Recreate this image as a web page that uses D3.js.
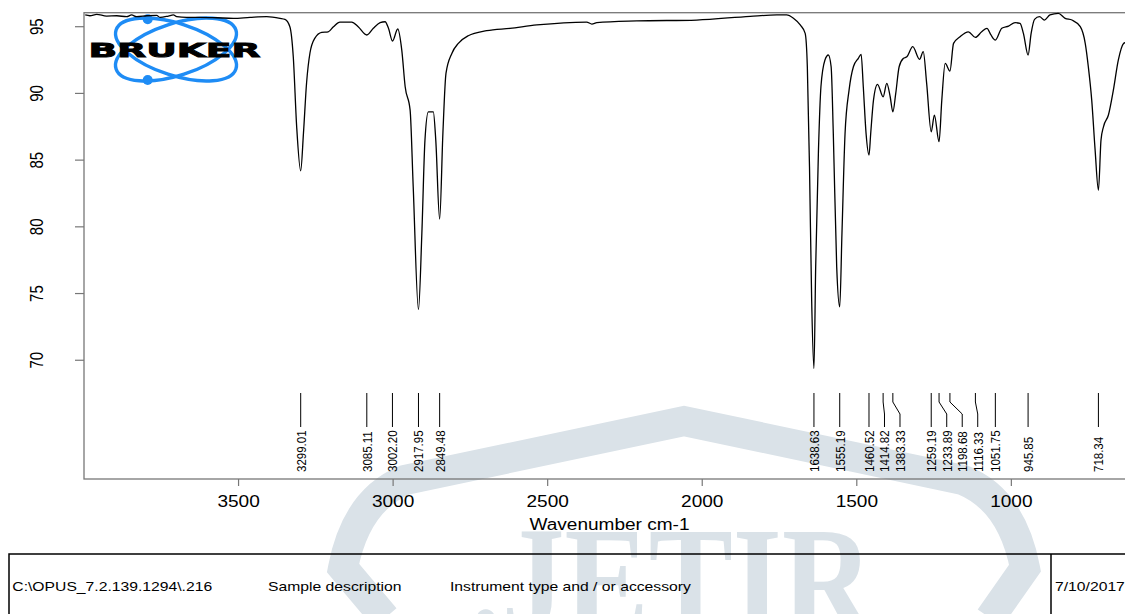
<!DOCTYPE html>
<html>
<head>
<meta charset="utf-8">
<script src="https://cdn.jsdelivr.net/npm/d3@7"></script>
<style>
  body { margin: 0; background: #fff; }
  svg { display: block; font-family: "Liberation Sans", Arial, sans-serif; }
</style>
</head>
<body>
<div id="chart"></div>
<script>
// spectrum (wavenumber cm-1, transmittance %)
const wavenumbers = [
  3996, 3981, 3959, 3927, 3894, 3862, 3846, 3830, 3797, 3765, 3754, 3727, 3711, 3700, 3668, 3625,
  3571, 3517, 3463, 3409, 3366, 3350, 3334, 3323, 3312, 3299, 3290, 3280, 3269, 3253, 3231, 3210,
  3193, 3172, 3134, 3113, 3085, 3064, 3042, 3026, 3015, 3002, 2985, 2972, 2961, 2945, 2935, 2918,
  2907, 2897, 2886, 2870, 2862, 2849.5, 2839, 2829, 2810, 2789, 2757, 2697, 2622, 2535, 2374, 2357,
  2341, 2212, 2018, 1845, 1759, 1727, 1705, 1683, 1667, 1660, 1653, 1646, 1638.6, 1633, 1624, 1616,
  1603, 1592, 1583, 1576, 1565, 1555.2, 1548, 1538, 1525, 1511, 1495, 1486, 1479, 1470, 1460.5, 1455,
  1446, 1433, 1414.8, 1403, 1392, 1383.3, 1374, 1363, 1349, 1338, 1319, 1297, 1285, 1274, 1259.2, 1249,
  1233.9, 1225, 1214, 1198.7, 1187, 1166, 1139, 1116.3, 1096, 1079, 1066, 1051.75, 1031, 1009, 988, 972,
  961, 945.85, 936, 925, 909, 893, 875, 848, 826, 804, 777, 761, 751, 740, 729, 718.3,
  710, 702, 686, 670, 654, 637, 632
];
const transmittance = [
  95.88, 95.82, 95.93, 95.80, 95.82, 95.75, 95.88, 95.75, 95.82, 95.85, 95.70, 95.80, 95.88, 95.75, 95.70, 95.70,
  95.67, 95.63, 95.70, 95.75, 95.63, 95.55, 95.00, 92.75, 87.50, 84.20, 87.03, 90.78, 93.03, 94.15, 94.58, 94.62,
  95.00, 95.35, 95.35, 95.00, 94.38, 94.88, 95.30, 95.37, 94.88, 93.93, 94.83, 93.25, 90.50, 88.75, 83.00, 73.80,
  79.53, 86.50, 88.62, 88.62, 86.50, 80.58, 87.00, 91.50, 93.00, 93.75, 94.32, 94.70, 94.88, 95.13, 95.35, 95.20,
  95.30, 95.43, 95.50, 95.78, 95.88, 95.88, 95.63, 95.13, 94.50, 92.00, 84.50, 74.50, 69.38, 77.00, 85.75, 90.50,
  92.50, 92.88, 92.00, 87.00, 77.00, 74.00, 79.50, 87.00, 90.25, 92.00, 92.63, 92.93, 90.50, 87.00, 85.38, 87.00,
  89.50, 90.68, 89.75, 90.75, 89.75, 88.62, 90.00, 92.00, 92.63, 92.75, 93.50, 92.55, 93.13, 90.75, 87.12, 88.38,
  86.38, 89.50, 92.25, 91.68, 93.75, 94.25, 94.62, 94.20, 94.62, 94.88, 94.38, 94.00, 94.88, 95.05, 95.30, 95.25,
  94.50, 92.88, 94.50, 95.55, 95.75, 95.50, 95.88, 96.00, 95.63, 95.50, 95.00, 93.75, 92.00, 89.50, 85.75, 82.75,
  86.50, 87.50, 88.38, 90.25, 92.50, 93.75, 93.80
];
const peakLabels = [
  "3299.01", "3085.11", "3002.20", "2917.95", "2849.48",
  "1638.63", "1555.19", "1460.52", "1414.82", "1383.33", "1259.19", "1233.89",
  "1198.68", "1116.33", "1051.75", "945.85", "718.34"
];
const xTicks = [3500, 3000, 2500, 2000, 1500, 1000];
const yTicks = [70, 75, 80, 85, 90, 95];
const xTitle = "Wavenumber cm-1";
const footerTexts = ["C:\\OPUS_7.2.139.1294\\.216", "Sample description", "Instrument type and / or accessory", "7/10/2017"];

const W = 1125, H = 614;
const S = 1.19; // the picture is stretched sideways
const frame = "#777";
const wmColor = "#dae2e8";

const svg = d3.select("#chart").append("svg")
  .attr("width", W).attr("height", H);

// JETIR watermark
svg.append("path")
  .attr("d", "M385,618 L343,568 Q356,500 405,480 L684,421 L963,480 Q1012,500 1025,568 L990,618")
  .attr("fill", "none")
  .attr("stroke", wmColor)
  .attr("stroke-width", 30)
  .attr("stroke-linejoin", "miter");
svg.append("text")
  .attr("x", 470).attr("y", 632)
  .attr("textLength", 403).attr("lengthAdjust", "spacingAndGlyphs")
  .style("font-family", "'Liberation Serif', serif")
  .style("font-weight", "bold")
  .style("font-size", "152px")
  .attr("fill", wmColor)
  .text(".JETIR");

const x = d3.scaleLinear().domain([4000, 600]).range([84, 1135]);
const y = d3.scaleLinear().domain([61.1, 96.05]).range([479, 12.7]);

// plot frame
svg.append("rect")
  .attr("x", x(4000)).attr("y", y(96.05))
  .attr("width", x(600) - x(4000)).attr("height", y(61.1) - y(96.05))
  .attr("fill", "none").attr("stroke", frame).attr("stroke-width", 1.3);

// y axis ticks and labels
svg.selectAll(".ytick").data(yTicks).join("line")
  .attr("x1", 75).attr("x2", x(4000))
  .attr("y1", d => y(d)).attr("y2", d => y(d))
  .attr("stroke", frame).attr("stroke-width", 1.2);
svg.selectAll(".ylab").data(yTicks).join("text")
  .attr("transform", d => `translate(43.3,${y(d)}) scale(${S},1) rotate(-90)`)
  .attr("text-anchor", "middle")
  .style("font-size", "15px")
  .text(d => d);

// x axis ticks and labels
svg.selectAll(".xtick").data(xTicks).join("line")
  .attr("x1", d => x(d)).attr("x2", d => x(d))
  .attr("y1", y(61.1)).attr("y2", y(61.1) + 7)
  .attr("stroke", frame).attr("stroke-width", 1.2);
svg.selectAll(".xlab").data(xTicks).join("text")
  .attr("transform", d => `translate(${x(d)},507) scale(${S},1)`)
  .attr("text-anchor", "middle")
  .style("font-size", "16px")
  .text(d => d);
svg.append("text")
  .attr("transform", `translate(${(x(4000) + x(600)) / 2},530) scale(${S},1)`)
  .attr("text-anchor", "middle")
  .style("font-size", "16px")
  .text(xTitle);

// BRUKER logo
const logo = svg.append("g").attr("transform", "translate(176,49.5)");
[18, -18].forEach(a => {
  logo.append("ellipse")
    .attr("rx", 63).attr("ry", 26)
    .attr("transform", `rotate(${a})`)
    .attr("fill", "none").attr("stroke", "#1e8cf5").attr("stroke-width", 3.4);
});
[-30.2, 30.5].forEach(dy => {
  logo.append("circle").attr("cx", -28.3).attr("cy", dy).attr("r", 5).attr("fill", "#1e8cf5");
});
svg.append("text")
  .attr("x", 88.5).attr("y", 57.3)
  .attr("textLength", 172).attr("lengthAdjust", "spacingAndGlyphs")
  .style("font-family", "'DejaVu Sans', sans-serif")
  .style("font-weight", "bold")
  .style("font-size", "20px")
  .attr("fill", "#000")
  .attr("stroke", "#000").attr("stroke-width", 0.9)
  .text("BRUKER");

// spectrum
const pts = wavenumbers.map((w, i) => [w, transmittance[i]]);
const line = d3.line()
  .x(d => x(d[0]))
  .y(d => y(d[1]))
  .curve(d3.curveMonotoneX);
svg.append("path")
  .datum(pts)
  .attr("d", line)
  .attr("fill", "none")
  .attr("stroke", "#000")
  .attr("stroke-width", 1.3);

// peak labels, pushed apart where they crowd
const minGap = 15.5;
let prev = -Infinity;
const peaks = peakLabels.map(s => ({ text: s, px: x(+s) })).sort((a, b) => a.px - b.px);
peaks.forEach(p => { p.lx = Math.max(p.px, prev + minGap); prev = p.lx; });

svg.selectAll(".pline").data(peaks).join("path")
  .attr("d", p => Math.abs(p.lx - p.px) < 0.5
    ? `M${p.px},393V427`
    : `M${p.px},393V402L${p.lx},414V427`)
  .attr("fill", "none").attr("stroke", "#000").attr("stroke-width", 1);
svg.selectAll(".plab").data(peaks).join("text")
  .attr("transform", p => `translate(${p.lx + 4.9},472) scale(${S},1) rotate(-90)`)
  .style("font-size", "11.5px")
  .text(p => p.text);

// footer box
svg.append("rect")
  .attr("x", 9).attr("y", 554).attr("width", 1200).attr("height", 100)
  .attr("fill", "none").attr("stroke", "#000").attr("stroke-width", 1.5);
svg.append("line")
  .attr("x1", 1051).attr("x2", 1051).attr("y1", 554).attr("y2", H)
  .attr("stroke", "#000").attr("stroke-width", 1.5);
const footerX = [12.3, 268, 450, 1055];
svg.selectAll(".foot").data(footerTexts).join("text")
  .attr("transform", (d, i) => `translate(${footerX[i]},591) scale(${S},1)`)
  .style("font-size", "13.2px")
  .text(d => d);
</script>
</body>
</html>
